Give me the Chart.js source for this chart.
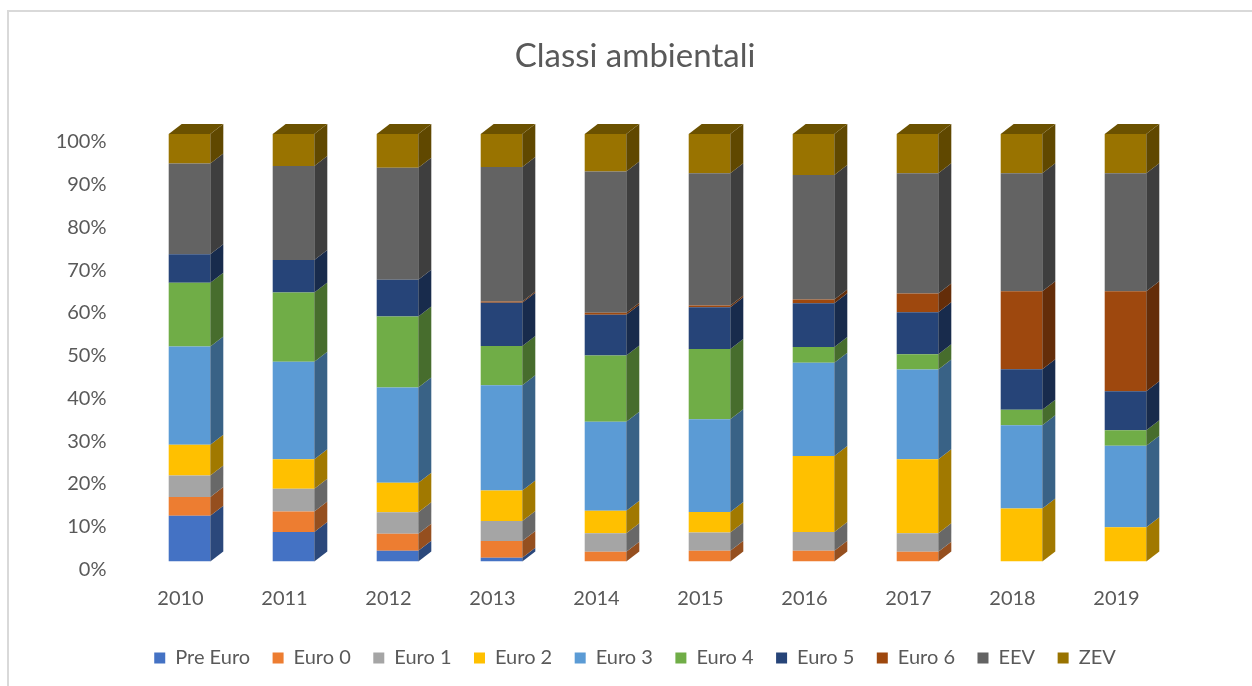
<!DOCTYPE html>
<html lang="it">
<head>
<meta charset="UTF-8">
<title>Classi ambientali</title>
<script src="https://cdn.jsdelivr.net/npm/chart.js"></script>
<style>
    body { margin: 0; background: #fff; overflow: hidden; }
    #wrap { position: relative; width: 1252px; height: 686px; }
    #frame {
        position: absolute; left: 7px; top: 10px; width: 1400px; height: 800px;
        border-top: 2px solid #d9d9d9; border-left: 2px solid #d9d9d9;
    }
    canvas { position: absolute; left: 0; top: 0; }
</style>
</head>
<body>
<div id="wrap">
    <div id="frame"></div>
    <canvas id="chart" width="1252" height="686"></canvas>
</div>
<script>
    // quota percentuale del parco veicoli per classe ambientale
    const years = ['2010', '2011', '2012', '2013', '2014', '2015', '2016', '2017', '2018', '2019'];
    const preEuro = [10.7, 6.9, 2.5, 0.9, 0, 0, 0, 0, 0, 0];
    const euro0   = [4.4, 4.8, 4.0, 3.9, 2.3, 2.5, 2.5, 2.3, 0, 0];
    const euro1   = [5.0, 5.3, 5.0, 4.7, 4.3, 4.3, 4.4, 4.3, 0, 0];
    const euro2   = [7.2, 6.9, 6.9, 7.1, 5.3, 4.8, 17.8, 17.3, 12.4, 8.0];
    const euro3   = [23.0, 22.8, 22.3, 24.6, 20.8, 21.7, 21.8, 21.0, 19.5, 19.1];
    const euro4   = [14.9, 16.2, 16.6, 9.2, 15.5, 16.4, 3.7, 3.6, 3.6, 3.6];
    const euro5   = [6.7, 7.6, 8.6, 10.1, 9.5, 9.8, 10.2, 9.8, 9.5, 9.1];
    const euro6   = [0, 0, 0, 0.3, 0.5, 0.4, 0.9, 4.4, 18.2, 23.4];
    const eev     = [21.2, 22.0, 26.2, 31.5, 33.0, 30.9, 29.1, 28.1, 27.6, 27.6];
    const zev     = [6.9, 7.5, 7.9, 7.7, 8.8, 9.2, 9.6, 9.2, 9.2, 9.2];

    const seriesNames = ['Pre Euro', 'Euro 0', 'Euro 1', 'Euro 2', 'Euro 3', 'Euro 4', 'Euro 5', 'Euro 6', 'EEV', 'ZEV'];
    const seriesData = [preEuro, euro0, euro1, euro2, euro3, euro4, euro5, euro6, eev, zev];
    const colors = ['#4472C4', '#ED7D31', '#A5A5A5', '#FFC000', '#5B9BD5', '#70AD47', '#264478', '#9E480E', '#636363', '#997300'];

    const textColor = '#595959';
    const font = 'Lato, "Open Sans", sans-serif';
    const depthX = 13, depthY = 10;

    function shade(hex, f) {
        const n = parseInt(hex.slice(1), 16);
        const r = Math.round(((n >> 16) & 255) * f);
        const g = Math.round(((n >> 8) & 255) * f);
        const b = Math.round((n & 255) * f);
        return `rgb(${r},${g},${b})`;
    }

    // lati e coperchio delle colonne per l'effetto 3D
    const columns3d = {
        id: 'columns3d',
        afterDatasetsDraw(chart) {
            const ctx = chart.ctx;
            const metas = chart.getSortedVisibleDatasetMetas();
            ctx.save();
            metas.forEach((meta, di) => {
                const col = colors[meta.index];
                meta.data.forEach((bar, i) => {
                    const top = Math.min(bar.y, bar.base);
                    const bottom = Math.max(bar.y, bar.base);
                    if (bottom - top < 0.3) return;
                    const left = bar.x - bar.width / 2;
                    const right = bar.x + bar.width / 2;
                    ctx.fillStyle = shade(col, 0.63);
                    ctx.beginPath();
                    ctx.moveTo(right, top);
                    ctx.lineTo(right + depthX, top - depthY);
                    ctx.lineTo(right + depthX, bottom - depthY);
                    ctx.lineTo(right, bottom);
                    ctx.closePath();
                    ctx.fill();
                    if (di === metas.length - 1) {
                        ctx.fillStyle = shade(col, 0.7);
                        ctx.beginPath();
                        ctx.moveTo(left, top);
                        ctx.lineTo(left + depthX, top - depthY);
                        ctx.lineTo(right + depthX, top - depthY);
                        ctx.lineTo(right, top);
                        ctx.closePath();
                        ctx.fill();
                    }
                });
            });
            ctx.restore();
        }
    };

    new Chart(document.getElementById('chart').getContext('2d'), {
        type: 'bar',
        data: {
            labels: years,
            datasets: seriesNames.map((name, k) => ({
                label: name,
                data: seriesData[k],
                backgroundColor: colors[k],
                borderWidth: 0,
                categoryPercentage: 1,
                barPercentage: 0.4
            }))
        },
        options: {
            responsive: false,
            animation: false,
            devicePixelRatio: 1,
            layout: { padding: { left: 18, right: 0, top: 0, bottom: 8 } },
            plugins: {
                tooltip: { enabled: false },
                title: {
                    display: true,
                    text: 'Classi ambientali',
                    color: textColor,
                    font: { family: font, size: 33, weight: 'normal' },
                    padding: { top: 37, bottom: 57.4 }
                },
                legend: {
                    position: 'bottom',
                    labels: {
                        color: textColor,
                        font: { family: font, size: 20 },
                        boxWidth: 11,
                        boxHeight: 11,
                        padding: 22.5
                    }
                }
            },
            scales: {
                x: {
                    stacked: true,
                    grid: { display: false, drawTicks: false },
                    border: { display: false },
                    ticks: {
                        color: textColor,
                        font: { family: font, size: 20 },
                        padding: 25,
                        labelOffset: -9
                    },
                    afterFit: s => { s.height = 64; }
                },
                y: {
                    stacked: true,
                    min: 0,
                    max: 100,
                    grid: { display: false, drawTicks: false },
                    border: { display: false },
                    ticks: {
                        stepSize: 10,
                        color: textColor,
                        font: { family: font, size: 20 },
                        padding: 31,
                        labelOffset: 8,
                        callback: v => v + '%'
                    },
                    afterFit: s => { s.width = 119.5; }
                },
                yRight: {
                    position: 'right',
                    display: true,
                    grid: { display: false, drawTicks: false },
                    border: { display: false },
                    ticks: { display: false },
                    afterFit: s => { s.width = 74.5; }
                }
            }
        },
        plugins: [columns3d]
    });
</script>
</body>
</html>
